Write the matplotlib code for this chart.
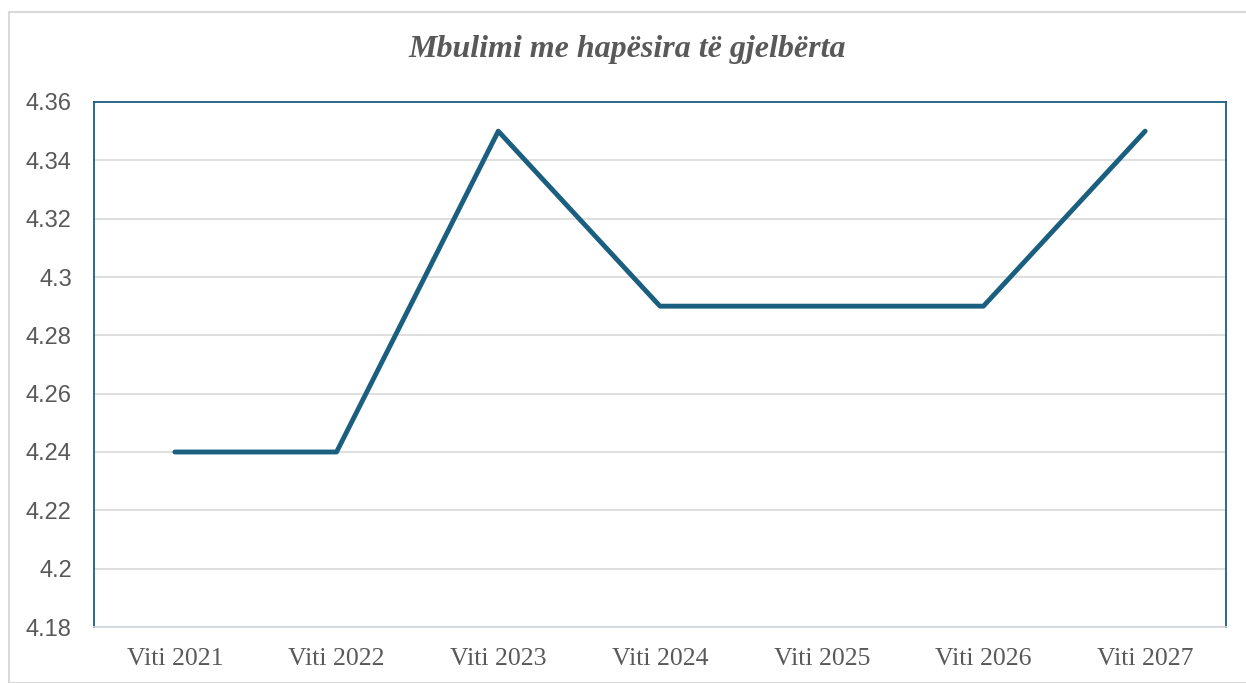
import matplotlib
matplotlib.use("Agg")
import matplotlib.pyplot as plt
from matplotlib.patches import Rectangle

categories = ["Viti 2021", "Viti 2022", "Viti 2023", "Viti 2024", "Viti 2025", "Viti 2026", "Viti 2027"]
values = [4.24, 4.24, 4.35, 4.29, 4.29, 4.29, 4.35]
yticks = [4.18, 4.20, 4.22, 4.24, 4.26, 4.28, 4.30, 4.32, 4.34, 4.36]
ytick_labels = ["4.18", "4.2", "4.22", "4.24", "4.26", "4.28", "4.3", "4.32", "4.34", "4.36"]
title = "Mbulimi me hapësira të gjelbërta"

W, H = 1246, 683
fig = plt.figure(figsize=(W / 100, H / 100), dpi=100)
fig.patches.append(Rectangle((9 / W, 0), 1.2, 1 - 12 / H, transform=fig.transFigure,
                             fill=False, edgecolor="#d9d9d9", linewidth=1.5))

ax = fig.add_axes([94 / W, 1 - 627 / H, (1226 - 94) / W, (627 - 102) / H])
x = list(range(len(categories)))
ax.plot(x, values, color="#1a5f7f", linewidth=3.5, solid_capstyle="round", solid_joinstyle="round", zorder=3)

ax.set_xlim(-0.5, len(categories) - 0.5)
ax.set_ylim(4.18, 4.36)
ax.set_yticks(yticks)
ax.set_yticklabels(ytick_labels, fontsize=17, color="#595959", family="Liberation Sans")
ax.set_xticks(x)
ax.set_xticklabels(categories, fontsize=18.5, color="#595959", family="Liberation Serif")
ax.tick_params(axis="both", length=0)
ax.tick_params(axis="y", pad=16)
ax.tick_params(axis="x", pad=15)
ax.grid(axis="y", color="#d9d9d9", linewidth=1.2, zorder=0)
ax.set_axisbelow(True)
for s in ["left", "top", "right"]:
    ax.spines[s].set_color("#1a5f7f")
    ax.spines[s].set_linewidth(1.3)
ax.spines["bottom"].set_color("#d0d7dc")
ax.spines["bottom"].set_linewidth(1.2)

fig.text(627 / W, 1 - 49 / H, title, ha="center", va="center", fontsize=23,
         family="Liberation Serif", style="italic", weight="bold", color="#595959")

fig.savefig("out.png", dpi=100)
